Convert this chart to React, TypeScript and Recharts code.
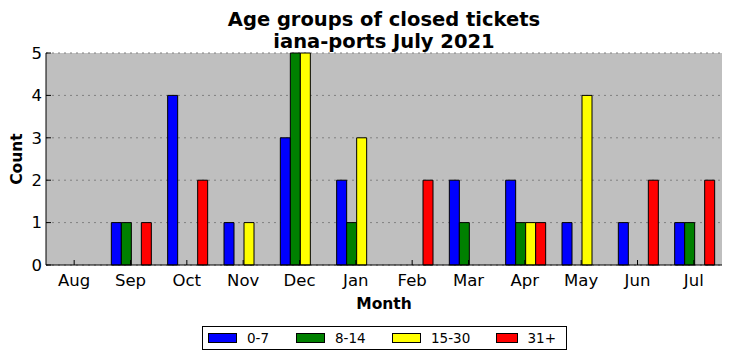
import React from 'react';
import { BarChart, Bar, XAxis, YAxis, CartesianGrid } from 'recharts';

const months = ['Aug', 'Sep', 'Oct', 'Nov', 'Dec', 'Jan', 'Feb', 'Mar', 'Apr', 'May', 'Jun', 'Jul'];
const age0to7 = [0, 1, 4, 1, 3, 2, 0, 2, 2, 1, 1, 1];
const age8to14 = [0, 1, 0, 0, 5, 1, 0, 1, 1, 0, 0, 1];
const age15to30 = [0, 0, 0, 1, 5, 3, 0, 0, 1, 4, 0, 0];
const age31plus = [0, 1, 2, 0, 0, 0, 2, 0, 1, 0, 2, 2];
const yTicks = [0, 1, 2, 3, 4, 5];

const seriesList = [
  { key: 'a', name: '0-7', color: '#0000ff', values: age0to7 },
  { key: 'b', name: '8-14', color: '#008000', values: age8to14 },
  { key: 'c', name: '15-30', color: '#ffff00', values: age15to30 },
  { key: 'd', name: '31+', color: '#ff0000', values: age31plus },
];

const data = months.map((m, i) => {
  const row: Record<string, any> = { month: m };
  seriesList.forEach(s => { row[s.key] = s.values[i]; });
  return row;
});

const font = '"DejaVu Sans", sans-serif';
const blank = () => '';

const App: React.FC = () => {
  return (
    <div style={{ position: 'absolute', left: 0, top: 0, width: 732, height: 361, background: '#fff', fontFamily: font }}>
      <div style={{ position: 'absolute', left: 46, width: 676, top: 9, textAlign: 'center', fontWeight: 'bold', fontSize: 19.5, lineHeight: '22px', color: '#000' }}>
        Age groups of closed tickets<br />iana-ports July 2021
      </div>
      <BarChart
        width={732}
        height={361}
        data={data}
        margin={{ top: 53, right: 10, left: 6, bottom: 56 }}
        barCategoryGap={9}
        barGap={0}
      >
        <CartesianGrid vertical={false} fill="#bfbfbf" stroke="#808080" strokeDasharray="2 4" />
        <XAxis
          dataKey="month"
          height={40}
          axisLine={{ stroke: '#000', strokeWidth: 1 }}
          tickLine={{ stroke: '#000' }}
          tickSize={-5}
          tickMargin={14}
          tick={{ fill: '#000', fontSize: 16.5, fontFamily: font }}
        />
        <XAxis
          dataKey="month"
          xAxisId="top"
          orientation="top"
          height={0}
          axisLine={{ stroke: '#000', strokeWidth: 1 }}
          tickLine={{ stroke: '#000' }}
          tickSize={-5}
          tickFormatter={blank}
        />
        <YAxis
          width={40}
          domain={[0, 5]}
          ticks={yTicks}
          interval={0}
          axisLine={{ stroke: '#000', strokeWidth: 1 }}
          tickLine={{ stroke: '#000' }}
          tickSize={-5}
          tickMargin={9}
          tick={{ fill: '#000', fontSize: 16.5, fontFamily: font }}
        />
        <YAxis
          yAxisId="right"
          orientation="right"
          width={0}
          domain={[0, 5]}
          ticks={yTicks}
          axisLine={{ stroke: '#000', strokeWidth: 1 }}
          tickLine={{ stroke: '#000' }}
          tickSize={-5}
          tickFormatter={blank}
        />
        {seriesList.map(s => (
          <Bar key={s.key} dataKey={s.key} name={s.name} fill={s.color} stroke="#000" strokeWidth={1} isAnimationActive={false} />
        ))}
      </BarChart>
      <div style={{ position: 'absolute', left: 17, top: 159, transform: 'translate(-50%, -50%) rotate(-90deg)', fontWeight: 'bold', fontSize: 15.5, whiteSpace: 'nowrap' }}>Count</div>
      <div style={{ position: 'absolute', left: 46, width: 676, top: 295, textAlign: 'center', fontWeight: 'bold', fontSize: 15.5 }}>Month</div>
      <div style={{ position: 'absolute', left: 202, top: 326, width: 363, height: 22, border: '1px solid #000', boxSizing: 'content-box', display: 'flex', alignItems: 'center', fontSize: 13.5 }}>
        {seriesList.map((s, i) => (
          <div key={s.key} style={{ display: 'flex', alignItems: 'center', marginLeft: i === 0 ? 5 : 0, width: i === 0 ? 88 : i === 1 ? 96 : i === 2 ? 104 : 60 }}>
            <span style={{ display: 'inline-block', width: 27, height: 8, background: s.color, border: '1px solid #000', marginRight: 10 }} />
            <span>{s.name}</span>
          </div>
        ))}
      </div>
    </div>
  );
};

export default App;
